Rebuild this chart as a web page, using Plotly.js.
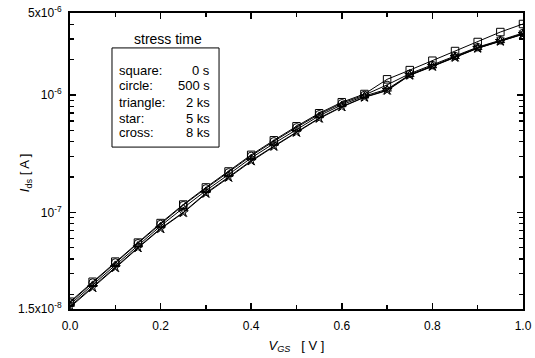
<!DOCTYPE html>
<html>
<head>
<meta charset="utf-8">
<script src="https://cdn.plot.ly/plotly-3.0.1.min.js"></script>
<style>html,body{margin:0;padding:0;background:#fff;}#chart{width:535px;height:358px;}</style>
</head>
<body>
<div id="chart"></div>
<script>
const vgs = [0, 0.05, 0.1, 0.15, 0.2, 0.25, 0.3, 0.35, 0.4, 0.45, 0.5, 0.55, 0.6, 0.65, 0.7, 0.75, 0.8, 0.85, 0.9, 0.95, 1.0];
const square = [1.73e-8, 2.56e-8, 3.80e-8, 5.52e-8, 8.10e-8, 1.165e-7, 1.63e-7, 2.23e-7, 3.09e-7, 4.11e-7, 5.41e-7, 6.99e-7, 8.68e-7, 1.02e-6, 1.36e-6, 1.63e-6, 1.96e-6, 2.37e-6, 2.83e-6, 3.44e-6, 4.03e-6];
const circle = [1.70e-8, 2.52e-8, 3.74e-8, 5.45e-8, 7.95e-8, 1.15e-7, 1.60e-7, 2.19e-7, 3.03e-7, 4.03e-7, 5.30e-7, 6.85e-7, 8.50e-7, 1.00e-6, 1.22e-6, 1.52e-6, 1.80e-6, 2.15e-6, 2.56e-6, 2.93e-6, 3.38e-6];
const triangle = [1.64e-8, 2.42e-8, 3.58e-8, 5.25e-8, 7.65e-8, 1.09e-7, 1.53e-7, 2.10e-7, 2.91e-7, 3.86e-7, 5.10e-7, 6.65e-7, 8.25e-7, 9.80e-7, 1.12e-6, 1.49e-6, 1.77e-6, 2.12e-6, 2.53e-6, 2.90e-6, 3.33e-6];
const star = [1.58e-8, 2.30e-8, 3.40e-8, 5.02e-8, 7.30e-8, 1.00e-7, 1.46e-7, 2.00e-7, 2.76e-7, 3.67e-7, 4.83e-7, 6.36e-7, 7.97e-7, 9.60e-7, 1.10e-6, 1.48e-6, 1.76e-6, 2.10e-6, 2.51e-6, 2.88e-6, 3.31e-6];
const cross = [1.55e-8, 2.26e-8, 3.35e-8, 4.96e-8, 7.22e-8, 9.90e-8, 1.44e-7, 1.97e-7, 2.72e-7, 3.63e-7, 4.78e-7, 6.30e-7, 7.90e-7, 9.55e-7, 1.09e-6, 1.47e-6, 1.75e-6, 2.09e-6, 2.50e-6, 2.87e-6, 3.29e-6];

const seriesNames = ['square', 'circle', 'triangle', 'star', 'cross'];
const seriesData = [square, circle, triangle, star, cross];
const seriesSymbols = ['square-open', 'circle-open', 'triangle-up-open', 'star-open', 'x-thin-open'];
const stressTimes = ['0 s', '500 s', '2 ks', '5 ks', '8 ks'];

const xTickVals = [0, 0.2, 0.4, 0.6, 0.8, 1.0];
const xTickText = ['0.0', '0.2', '0.4', '0.6', '0.8', '1.0'];
const xMinorVals = [0.1, 0.3, 0.5, 0.7, 0.9];
const yTickVals = [1.5e-8, 1e-7, 1e-6, 5e-6];
const yTickText = ['1.5x10<sup>-8</sup>', '10<sup>-7</sup>', '10<sup>-6</sup>', '5x10<sup>-6</sup>'];
const yMinorVals = [2e-8, 3e-8, 4e-8, 5e-8, 6e-8, 7e-8, 8e-8, 9e-8, 2e-7, 3e-7, 4e-7, 5e-7, 6e-7, 7e-7, 8e-7, 9e-7, 2e-6, 3e-6, 4e-6];

const FONT = 'Liberation Sans, Arial, sans-serif';

const traces = seriesData.map((ys, i) => ({
  x: vgs, y: ys, type: 'scatter', mode: 'lines+markers', name: seriesNames[i],
  line: {color: '#000', width: 1},
  marker: {symbol: seriesSymbols[i], size: 7.5, color: '#000', line: {color: '#000', width: 1}}
}));

// legend-box line positions (paper fractions)
const boxLineY = [0.8074, 0.7534, 0.6993, 0.6436, 0.5946];
const legendAnn = [];
seriesNames.forEach((n, i) => {
  legendAnn.push({xref: 'paper', yref: 'paper', x: 0.104, y: boxLineY[i], text: n + ':', showarrow: false, xanchor: 'left', yanchor: 'middle', font: {family: FONT, size: 13, color: '#000'}});
  legendAnn.push({xref: 'paper', yref: 'paper', x: 0.3135, y: boxLineY[i], text: stressTimes[i], showarrow: false, xanchor: 'right', yanchor: 'middle', font: {family: FONT, size: 13, color: '#000'}});
});

const layout = {
  width: 535, height: 358,
  margin: {l: 70, r: 12, t: 13, b: 49},
  paper_bgcolor: '#fff', plot_bgcolor: '#fff',
  showlegend: false,
  font: {family: FONT, size: 12, color: '#000'},
  xaxis: {
    range: [0, 1], tickmode: 'array', tickvals: xTickVals, ticktext: xTickText,
    ticks: 'inside', ticklen: 6, tickwidth: 1.5, tickcolor: '#000', ticklabelstandoff: 5,
    showline: true, linewidth: 2, linecolor: '#000', mirror: 'allticks',
    showgrid: false, zeroline: false,
    minor: {tickmode: 'array', tickvals: xMinorVals, ticks: 'inside', ticklen: 4, tickwidth: 1.5, tickcolor: '#000', showgrid: false},
    tickfont: {family: FONT, size: 12, color: '#000'},
    title: {text: '<i>V</i><sub><i>GS</i></sub>   [ V ]', font: {family: FONT, size: 13, color: '#000'}, standoff: 8}
  },
  yaxis: {
    type: 'log', range: [Math.log10(1.5e-8), Math.log10(5e-6)],
    tickmode: 'array', tickvals: yTickVals, ticktext: yTickText,
    ticks: 'inside', ticklen: 6, tickwidth: 1.5, tickcolor: '#000', ticklabelstandoff: 4,
    showline: true, linewidth: 2, linecolor: '#000', mirror: 'allticks',
    showgrid: false, zeroline: false,
    minor: {tickmode: 'array', tickvals: yMinorVals, ticks: 'inside', ticklen: 4, tickwidth: 1.5, tickcolor: '#000', showgrid: false},
    tickfont: {family: FONT, size: 12, color: '#000'}
  },
  shapes: [{type: 'rect', xref: 'paper', yref: 'paper', x0: 0.0927, x1: 0.329, y0: 0.547, y1: 0.882, line: {color: '#000', width: 1}, fillcolor: 'rgba(0,0,0,0)'}],
  annotations: [
    {xref: 'paper', yref: 'paper', x: -0.0993, y: 0.459, text: '<i>I</i><sub>ds</sub> [ A ]', textangle: -90, showarrow: false, xanchor: 'center', yanchor: 'middle', font: {family: FONT, size: 13, color: '#000'}},
    {xref: 'paper', yref: 'paper', x: 0.216, y: 0.912, text: 'stress time', showarrow: false, xanchor: 'center', yanchor: 'middle', font: {family: FONT, size: 14, color: '#000'}}
  ].concat(legendAnn)
};

Plotly.newPlot('chart', traces, layout, {staticPlot: true, displayModeBar: false});
</script>
</body>
</html>
